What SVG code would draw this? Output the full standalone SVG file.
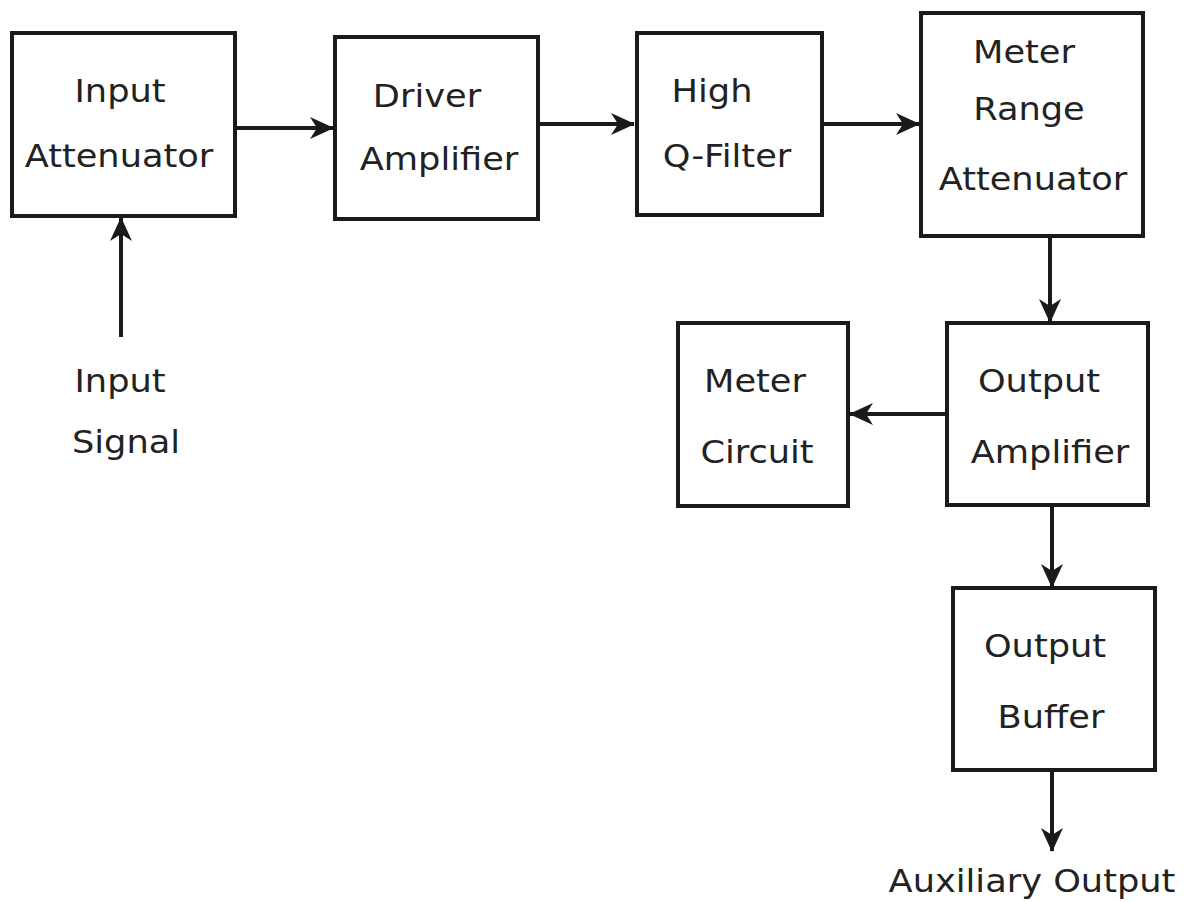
<svg xmlns="http://www.w3.org/2000/svg" width="1189" height="902" viewBox="0 0 1189 902">
<style>
.box{fill:#fff;stroke:#1a1a1a;stroke-width:4}
.con{fill:none;stroke:#1a1a1a;stroke-width:4}
text{font-family:"DejaVu Sans","Verdana",sans-serif;font-size:32px;fill:#222;text-anchor:middle}
</style>
<defs>
<marker id="ah" markerUnits="userSpaceOnUse" markerWidth="24" markerHeight="24" viewBox="0 0 24 24" refX="23" refY="12" orient="auto">
<path d="M0,1 L24,12 L0,23 L7,12 z" fill="#1a1a1a"/>
</marker>
</defs>
<rect width="1189" height="902" fill="#fff"/>
<g id="connectors">
<path class="con" d="M235,128 L333,128" marker-end="url(#ah)"/>
<path class="con" d="M538,124 L634,124" marker-end="url(#ah)"/>
<path class="con" d="M822,124 L919,124" marker-end="url(#ah)"/>
<path class="con" d="M1050,236 L1050,322" marker-end="url(#ah)"/>
<path class="con" d="M947,414 L850,414" marker-end="url(#ah)"/>
<path class="con" d="M1052,505 L1052,587" marker-end="url(#ah)"/>
<path class="con" d="M1052,770 L1052,851" marker-end="url(#ah)"/>
<path class="con" d="M121,337 L121,218" marker-end="url(#ah)"/>
</g>
<g id="input-attenuator">
<rect class="box" x="12" y="33" width="223" height="183"/>
<text transform="translate(120,102) scale(1.1,1)">Input</text>
<text transform="translate(119,167) scale(1.1,1)">Attenuator</text>
</g>
<g id="driver-amplifier">
<rect class="box" x="335" y="37" width="203" height="182"/>
<text transform="translate(427,107) scale(1.1,1)">Driver</text>
<text transform="translate(439,170) scale(1.1,1)">Amplifier</text>
</g>
<g id="high-q-filter">
<rect class="box" x="637" y="33" width="185" height="182"/>
<text transform="translate(712,102) scale(1.1,1)">High</text>
<text transform="translate(727,167) scale(1.1,1)">Q-Filter</text>
</g>
<g id="meter-range-attenuator">
<rect class="box" x="921" y="13" width="222" height="223"/>
<text transform="translate(1024,63) scale(1.1,1)">Meter</text>
<text transform="translate(1029,120) scale(1.1,1)">Range</text>
<text transform="translate(1033,190) scale(1.1,1)">Attenuator</text>
</g>
<g id="output-amplifier">
<rect class="box" x="947" y="323" width="201" height="182"/>
<text transform="translate(1039,392) scale(1.1,1)">Output</text>
<text transform="translate(1050,463) scale(1.1,1)">Amplifier</text>
</g>
<g id="meter-circuit">
<rect class="box" x="678" y="323" width="170" height="183"/>
<text transform="translate(755,392) scale(1.1,1)">Meter</text>
<text transform="translate(757,463) scale(1.1,1)">Circuit</text>
</g>
<g id="output-buffer">
<rect class="box" x="953" y="588" width="202" height="182"/>
<text transform="translate(1045,657) scale(1.1,1)">Output</text>
<text transform="translate(1051,728) scale(1.1,1)">Buffer</text>
</g>
<g id="input-signal">
<text transform="translate(120,392) scale(1.1,1)">Input</text>
<text transform="translate(126,453) scale(1.1,1)">Signal</text>
</g>
<g id="auxiliary-output">
<text transform="translate(1032,892) scale(1.1,1)">Auxiliary Output</text>
</g>
</svg>
